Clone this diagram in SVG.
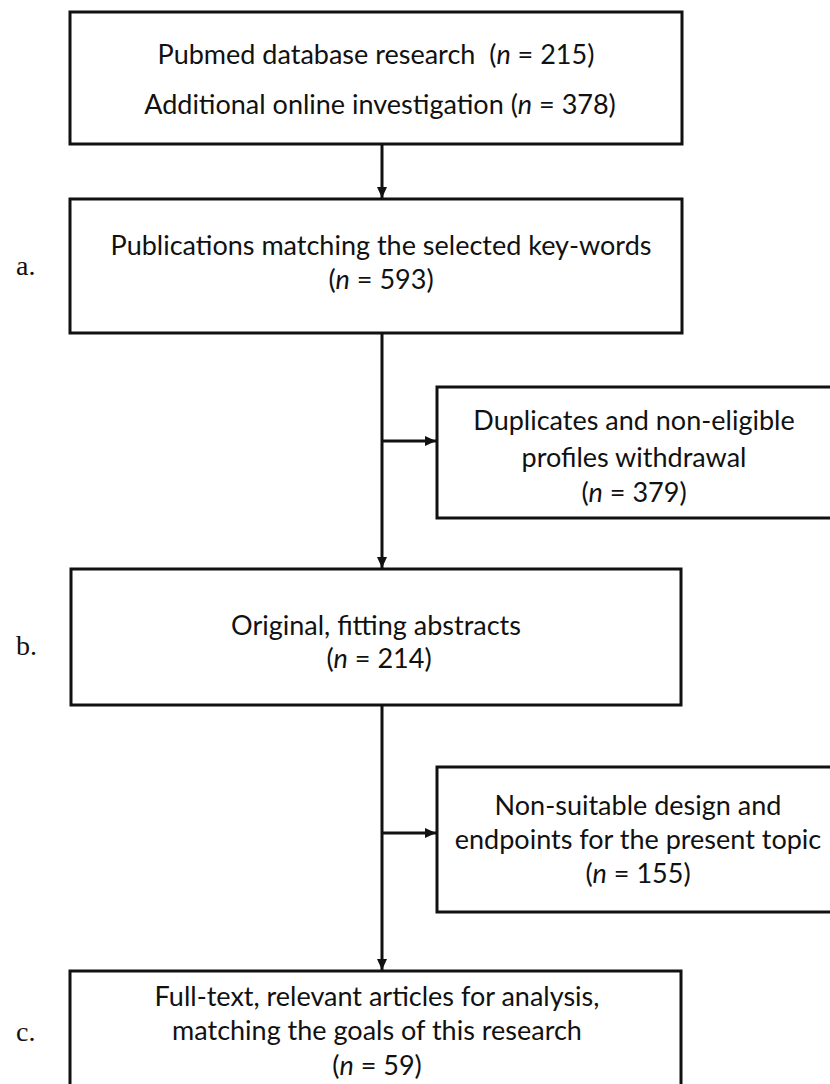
<svg xmlns="http://www.w3.org/2000/svg" width="830" height="1084" viewBox="0 0 830 1084">
<defs>
<style>
.box{fill:#fff;stroke:#111;stroke-width:3}
.t{font-family:Lato,"Open Sans","Liberation Sans",sans-serif;font-size:27px;fill:#111;text-anchor:middle}
.lbl{font-family:"Liberation Serif","DejaVu Serif",serif;font-size:28px;fill:#111}
.i{font-style:italic}
.c{fill:none;stroke:#111;stroke-width:3}
</style>
<marker id="ah" markerUnits="userSpaceOnUse" markerWidth="12" markerHeight="12" viewBox="0 0 12 12" refX="11" refY="6" orient="auto">
<path d="M0,1 L11,6 L0,11 Z" fill="#111"/>
</marker>
</defs>
<rect width="830" height="1084" fill="#fff"/>
<g id="connectors">
<line class="c" x1="382" y1="144" x2="382" y2="198" marker-end="url(#ah)"/>
<line class="c" x1="382" y1="333" x2="382" y2="568" marker-end="url(#ah)"/>
<line class="c" x1="382" y1="441" x2="436" y2="441" marker-end="url(#ah)"/>
<line class="c" x1="382" y1="705" x2="382" y2="970" marker-end="url(#ah)"/>
<line class="c" x1="382" y1="833" x2="436" y2="833" marker-end="url(#ah)"/>
</g>
<g id="n1">
<rect class="box" x="70" y="12" width="612" height="132"/>
<text class="t" x="376" y="64" style="white-space:pre">Pubmed database research  (<tspan class="i">n</tspan> = 215)</text>
<text class="t" x="380" y="114">Additional online investigation (<tspan class="i">n</tspan> = 378)</text>
</g>
<g id="n2">
<rect class="box" x="70" y="199" width="612" height="134"/>
<text class="t" x="381" y="255">Publications matching the selected key-words</text>
<text class="t" x="381" y="289">(<tspan class="i">n</tspan> = 593)</text>
</g>
<g id="n3">
<rect class="box" x="437" y="387" width="398" height="131"/>
<text class="t" x="634" y="430">Duplicates and non-eligible</text>
<text class="t" x="634" y="467">profiles withdrawal</text>
<text class="t" x="634" y="502">(<tspan class="i">n</tspan> = 379)</text>
</g>
<g id="n4">
<rect class="box" x="71" y="569" width="610" height="136"/>
<text class="t" x="376" y="635">Original, fitting abstracts</text>
<text class="t" x="379" y="668">(<tspan class="i">n</tspan> = 214)</text>
</g>
<g id="n5">
<rect class="box" x="437" y="767" width="402" height="145"/>
<text class="t" x="638" y="815">Non-suitable design and</text>
<text class="t" x="638" y="849">endpoints for the present topic</text>
<text class="t" x="638" y="883">(<tspan class="i">n</tspan> = 155)</text>
</g>
<g id="n6">
<rect class="box" x="70" y="971" width="611" height="118"/>
<text class="t" x="377" y="1006">Full-text, relevant articles for analysis,</text>
<text class="t" x="377" y="1040">matching the goals of this research</text>
<text class="t" x="377" y="1075">(<tspan class="i">n</tspan> = 59)</text>
</g>
<g id="labels">
<text class="lbl" x="16" y="275">a.</text>
<text class="lbl" x="16" y="655">b.</text>
<text class="lbl" x="16" y="1041">c.</text>
</g>
</svg>
